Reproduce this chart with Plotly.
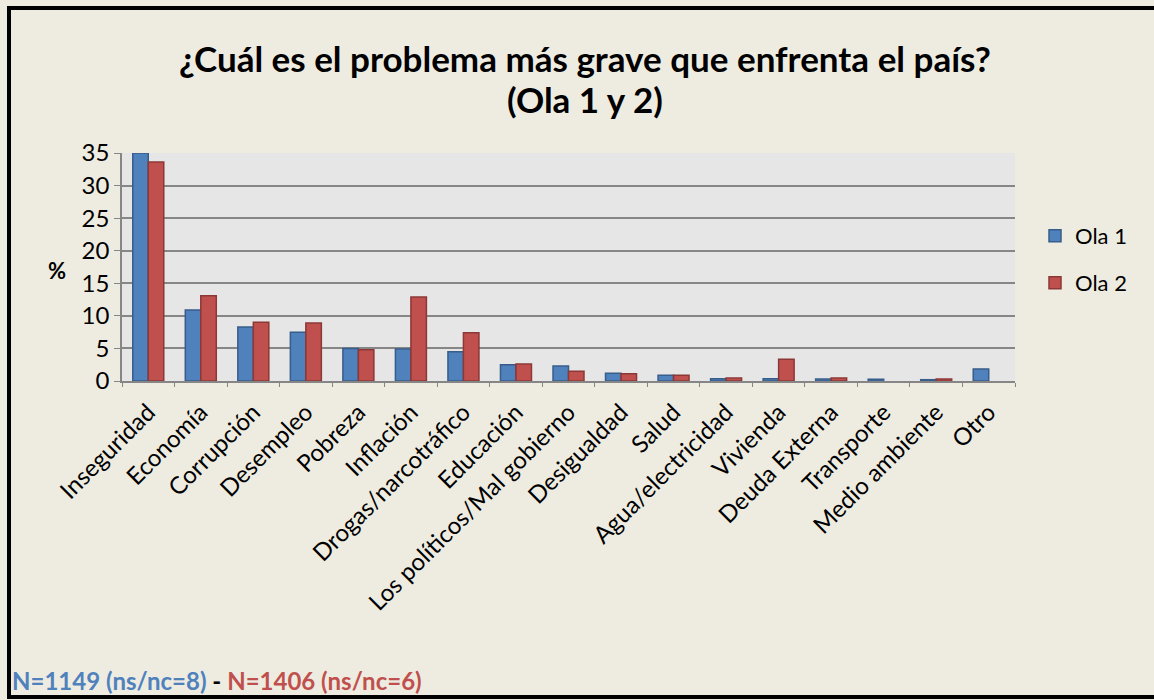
import plotly.graph_objects as go

categories = ["Inseguridad", "Economía", "Corrupción", "Desempleo", "Pobreza", "Inflación",
              "Drogas/narcotráfico", "Educación", "Los políticos/Mal gobierno", "Desigualdad",
              "Salud", "Agua/electricidad", "Vivienda", "Deuda Externa", "Transporte",
              "Medio ambiente", "Otro"]
ola1 = [35.0, 10.9, 8.3, 7.5, 5.0, 4.9, 4.5, 2.5, 2.3, 1.2, 0.9, 0.35, 0.35, 0.3, 0.25, 0.2, 1.85]
ola2 = [33.6, 13.1, 9.0, 8.9, 4.8, 12.9, 7.4, 2.6, 1.5, 1.1, 0.9, 0.45, 3.35, 0.45, None, 0.3, None]
y_ticks = [0, 5, 10, 15, 20, 25, 30, 35]

FONT = "Lato"
BLUE, BLUE_E = "#4F81BD", "#385D8A"
RED, RED_E = "#C0504D", "#8C3836"

W, H = 1154, 700
L, R, T, B = 122, 1015, 153, 381
pw, ph = R - L, B - T

def px(x):
    return (x - L) / pw

def py(y):
    return (B - y) / ph

fig = go.Figure()
fig.add_bar(x=categories, y=ola1, name="Ola 1", legend="legend",
            marker=dict(color=BLUE, line=dict(color=BLUE_E, width=1.5)))
fig.add_bar(x=categories, y=ola2, name="Ola 2", legend="legend2",
            marker=dict(color=RED, line=dict(color=RED_E, width=1.5)))

leg_common = dict(xanchor="left", yanchor="middle", font=dict(size=22, family=FONT),
                  bgcolor="rgba(0,0,0,0)", itemwidth=30)
fig.update_layout(
    width=W, height=H,
    margin=dict(l=L, r=W - R, t=T, b=H - B),
    paper_bgcolor="#EEECE1",
    plot_bgcolor="#E6E6E6",
    font=dict(family=FONT, color="black"),
    barmode="group", bargap=0.41, bargroupgap=0.0,
    legend=dict(x=px(1035), y=py(236), **leg_common),
    legend2=dict(x=px(1035), y=py(283), **leg_common),
    showlegend=True,
)
fig.update_xaxes(showline=True, linecolor="#868686", linewidth=1.5, tickangle=-45,
                 tickfont=dict(size=24, family=FONT), ticks="outside", tickson="boundaries",
                 ticklen=4, tickcolor="#868686", showgrid=False, ticklabelstandoff=6)
fig.update_yaxes(range=[0, 35], tickvals=y_ticks, showline=True, linecolor="#868686", linewidth=1.5,
                 ticks="outside", ticklen=6, tickcolor="#868686",
                 gridcolor="#868686", gridwidth=1.5, tickfont=dict(size=24, family=FONT),
                 zeroline=False)

fig.add_annotation(text="<b>¿Cuál es el problema más grave que enfrenta el país?</b>",
                   x=px(585), y=py(58), xref="paper", yref="paper", showarrow=False,
                   xanchor="center", yanchor="middle", font=dict(size=35, family=FONT))
fig.add_annotation(text="<b>(Ola 1 y 2)</b>",
                   x=px(585), y=py(99), xref="paper", yref="paper", showarrow=False,
                   xanchor="center", yanchor="middle", font=dict(size=35, family=FONT))
fig.add_annotation(text="<b>%</b>", x=px(57), y=py(270), xref="paper", yref="paper",
                   xanchor="center", yanchor="middle",
                   showarrow=False, font=dict(size=22, family=FONT))
fig.add_annotation(text="<b><span style='color:#4F81BD'>N=1149 (ns/nc=8)</span> - "
                        "<span style='color:#C0504D'>N=1406 (ns/nc=6)</span></b>",
                   x=px(10), y=py(680), xref="paper", yref="paper", xanchor="left", yanchor="middle",
                   showarrow=False, font=dict(size=24, family=FONT))
fig.add_shape(type="rect", xref="paper", yref="paper",
              x0=px(9), x1=px(1170), y0=py(697), y1=py(8),
              line=dict(color="black", width=4), fillcolor="rgba(0,0,0,0)", layer="above")

fig.write_html("out.html", config={"displayModeBar": False},
               post_script="document.body.style.margin='0';document.body.style.overflow='hidden';")
